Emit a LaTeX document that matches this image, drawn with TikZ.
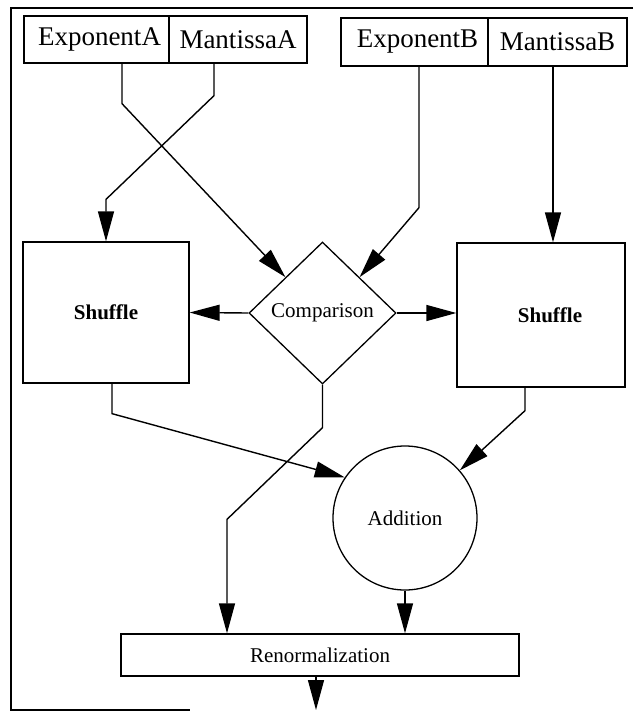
\documentclass[tikz,border=0pt]{standalone}
\usepackage{fontspec}
\setmainfont{Liberation Serif}
\usetikzlibrary{arrows.meta,shapes.geometric}
\tikzset{
  box/.style={draw, line width=1.3pt, rectangle, inner sep=0pt},
  toplbl/.style={font=\fontsize{27}{30}\selectfont},
  midlbl/.style={font=\fontsize{21}{24}\selectfont},
  arr/.style={line width=1.4pt, -{Triangle[length=30pt,width=16pt]}},
  frameln/.style={line width=1.4pt}
}
\begin{document}
\begin{tikzpicture}[x=1pt,y=-1pt]
\useasboundingbox (0,0) rectangle (633,716);
% frame
\draw[frameln] (633,8) -- (11,8) -- (11,710) -- (190,710);
% top boxes
\node[box,toplbl,minimum width=145pt,minimum height=47pt] (expA) at (96.5,39.5) {\hspace*{6pt}ExponentA};
\node[box,toplbl,minimum width=138pt,minimum height=47pt] (manA) at (238,39.5) {MantissaA};
\node[box,toplbl,minimum width=147pt,minimum height=48pt] (expB) at (414.5,42) {\hspace*{6pt}ExponentB};
\node[box,toplbl,minimum width=139pt,minimum height=48pt] (manB) at (557.5,42) {MantissaB};
% middle row
\node[box,minimum width=166pt,minimum height=141pt,font=\fontsize{21}{24}\selectfont\bfseries] (shufL) at (106,312.5) {Shuffle};
\node[box,minimum width=168pt,minimum height=144pt,font=\fontsize{21}{24}\selectfont\bfseries] (shufR) at (541,315) {\hspace*{18pt}Shuffle};
\node[draw,line width=1.3pt,diamond,inner sep=0pt,minimum width=147pt,minimum height=142pt,midlbl] (comp) at (322.5,313) {Comparison};
% addition
\node[draw,line width=1.3pt,circle,inner sep=0pt,minimum size=144pt,midlbl] (add) at (405,518) {Addition};
% renormalization
\node[box,midlbl,minimum width=398pt,minimum height=42pt] (renorm) at (320,655) {Renormalization};
\coordinate (out) at (316,710);
% connectors
\draw[arr] ([xshift=25.5pt]expA.south) -- ++(0,40) -- (comp.north west);
\draw[arr] ([xshift=-24pt]manA.south) -- ++(0,32) -- ([yshift=42pt]shufL.north) -- (shufL.north);
\draw[arr] ([xshift=4.5pt]expB.south) -- ++(0,141) -- (comp.north east);
\draw[arr] ([xshift=-4.5pt]manB.south) -- ([xshift=12pt]shufR.north);
\draw[arr] (comp.west) -- (shufL.east);
\draw[arr] (comp.east) -- (comp.east -| shufR.west);
\draw[arr] ([xshift=6pt]shufL.south) -- ++(0,30) -- (add.146);
\draw[arr] ([xshift=-16pt]shufR.south) -- ++(0,23) -- (add.41);
\draw[arr] (comp.south) -- ++(0,43) -- ([xshift=-93pt,yshift=114pt]renorm.north) -- ([xshift=-93pt]renorm.north);
\draw[arr] (add.south) -- (add.south |- renorm.north);
\draw[arr] ([xshift=-4pt]renorm.south) -- (out);
\end{tikzpicture}
\end{document}
